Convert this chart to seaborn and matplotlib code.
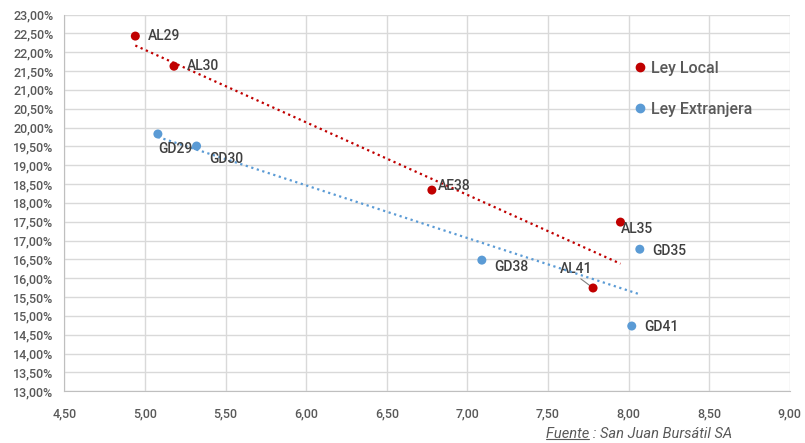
import numpy as np
import pandas as pd
import matplotlib
matplotlib.use("Agg")
import matplotlib.pyplot as plt
import seaborn as sns

local_names = ["AL29", "AL30", "AE38", "AL35", "AL41"]
local_x = [4.94, 5.18, 6.78, 7.95, 7.78]
local_y = [22.43, 21.63, 18.34, 17.49, 15.74]

ext_names = ["GD29", "GD30", "GD38", "GD35", "GD41"]
ext_x = [5.08, 5.32, 7.09, 8.07, 8.02]
ext_y = [19.83, 19.51, 16.48, 16.77, 14.73]

series = ["Ley Local", "Ley Extranjera"]
colors = {"Ley Local": "#C00000", "Ley Extranjera": "#5B9BD5"}

df = pd.DataFrame({
    "name": local_names + ext_names,
    "x": local_x + ext_x,
    "y": local_y + ext_y,
    "serie": [series[0]] * 5 + [series[1]] * 5,
})

sns.set_style("white")
plt.rcParams["font.family"] = ["Roboto", "DejaVu Sans"]
W = "medium"

fig = plt.figure(figsize=(8.05, 4.43), dpi=100)
ax = fig.add_axes([0.080, 0.117, 0.901, 0.850])

# trendlines
for s in series:
    d = df[df.serie == s]
    m, b = np.polyfit(d.x, d.y, 1)
    xs = np.array([d.x.min(), d.x.max()])
    ax.plot(xs, m * xs + b, linestyle=(0, (1, 1.6)), color=colors[s], lw=1.6, zorder=2)

sns.scatterplot(data=df, x="x", y="y", hue="serie", palette=colors, s=42,
                edgecolor="none", ax=ax, zorder=3, legend=False)

offsets = {
    "AL29": (9, 0, "left", "center"),
    "AL30": (9, 0, "left", "center"),
    "AE38": (4, 3, "left", "center"),
    "AL35": (0, -5, "left", "center"),
    "GD29": (0, -11, "left", "center"),
    "GD30": (9, -9, "left", "center"),
    "GD38": (9, -5, "left", "center"),
    "GD35": (9, -1, "left", "center"),
    "GD41": (9, -1, "left", "center"),
}
for _, r in df.iterrows():
    if r["name"] == "AL41":
        ax.annotate("AL41", (r.x, r.y), xytext=(-12, 14), textcoords="offset points",
                    ha="center", va="center", fontsize=10, color="#404040", fontweight=W,
                    zorder=1,
                    arrowprops=dict(arrowstyle="-", color="#808080", lw=0.8, shrinkA=0, shrinkB=3,
                                    relpos=(0.5, 0.0)))
        continue
    dx, dy, ha, va = offsets[r["name"]]
    ax.annotate(r["name"], (r.x, r.y), xytext=(dx, dy), textcoords="offset points",
                ha=ha, va=va, fontsize=10, color="#404040", fontweight=W)

ax.set_xlim(4.5, 9.0)
ax.set_ylim(13.0, 23.0)
ax.set_xticks(np.arange(4.5, 9.01, 0.5))
ax.set_yticks(np.arange(13.0, 23.01, 0.5))
ax.set_xticklabels([f"{v:.2f}".replace(".", ",") for v in np.arange(4.5, 9.01, 0.5)])
ax.set_yticklabels([f"{v:.2f}%".replace(".", ",") for v in np.arange(13.0, 23.01, 0.5)])
ax.grid(True, color="#D9D9D9", lw=1)
ax.set_axisbelow(True)
for sp in ["top", "right"]:
    ax.spines[sp].set_visible(False)
for sp in ["left", "bottom"]:
    ax.spines[sp].set_color("#BFBFBF")
ax.tick_params(axis="both", length=0, labelsize=9, labelcolor="#595959")
ax.tick_params(axis="x", pad=12)
ax.tick_params(axis="y", pad=8)
for lab in ax.get_xticklabels() + ax.get_yticklabels():
    lab.set_fontweight(W)
ax.set_xlabel("")
ax.set_ylabel("")

# legend
handles = [plt.Line2D([], [], marker="o", ls="", color=colors[s], markersize=6) for s in series]
leg = ax.legend(handles, series, loc="upper left", bbox_to_anchor=(0.758, 0.916), frameon=False,
                fontsize=11.5, labelspacing=1.65, handletextpad=0.0, handlelength=1.4,
                labelcolor="#595959")
for t in leg.get_texts():
    t.set_fontweight(W)

# footer
t1 = fig.text(0.678, 0.012, "Fuente", fontsize=10.5, style="italic", color="#595959")
t2 = fig.text(0.678, 0.012, "Fuente : San Juan Bursátil SA", fontsize=10.5, style="italic",
              color="#595959")
t1.set_alpha(0)
fig.canvas.draw()
bb = t1.get_window_extent().transformed(fig.transFigure.inverted())
fig.add_artist(plt.Line2D([bb.x0, bb.x1], [bb.y0 + 0.004, bb.y0 + 0.004], color="#595959",
                          lw=0.8, transform=fig.transFigure))

fig.savefig("out.png", dpi=100)
